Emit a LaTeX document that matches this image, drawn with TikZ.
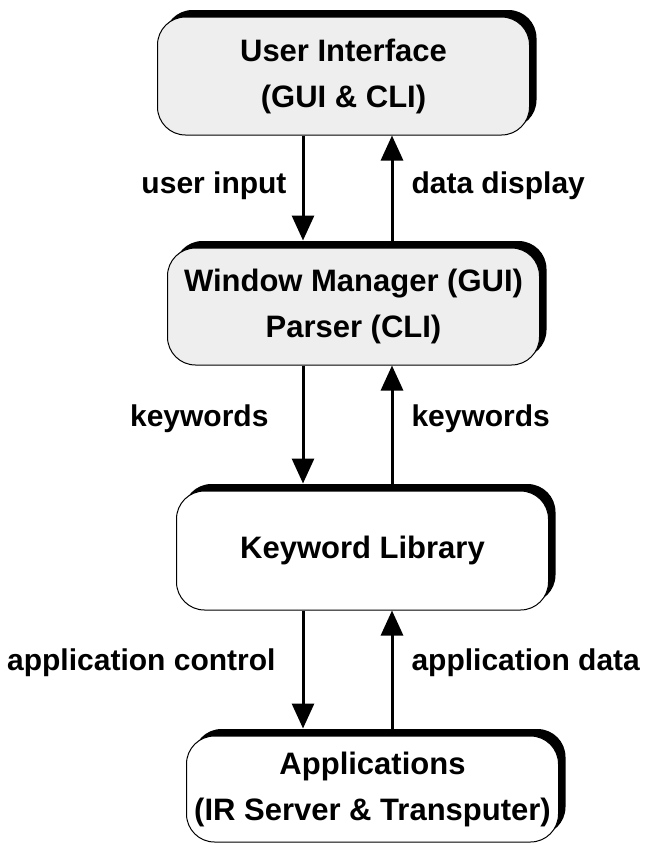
\documentclass[tikz,border=0pt]{standalone}
\usepackage{fontspec}
\setmainfont{Liberation Sans}
\usetikzlibrary{arrows.meta,shadows,calc}

\begin{document}
\begin{tikzpicture}[x=1pt,y=-1pt,
    layer/.style={draw=black,line width=1pt,rounded corners=28pt,inner sep=0pt,
        minimum width=372pt,align=center,
        font=\fontsize{31}{46}\selectfont\bfseries,
        drop shadow={shadow xshift=7pt,shadow yshift=7pt,fill=black,opacity=1}},
    shaded/.style={fill=gray!13},
    plain/.style={fill=white},
    flow/.style={line width=3pt,-{Triangle[width=22pt,length=25pt]}},
    lbl/.style={font=\fontsize{30}{36}\selectfont\bfseries,inner sep=0pt}]
    \useasboundingbox (0,0) rectangle (647,844);

    % Layers
    \node[layer,shaded,minimum height=118pt] (ui) at (343.5,76) {User Interface\\(GUI \& CLI)};
    \node[layer,shaded,minimum height=117pt] (wm) at (353.5,306.5) {Window Manager (GUI)\\Parser (CLI)};
    \node[layer,plain,minimum height=119pt] (kl) at (362.5,550.5) {Keyword Library};
    \node[layer,plain,minimum height=106pt] (app) at (372.5,789) {Applications\\(IR Server \& Transputer)};

    % Arrow columns
    \coordinate (dn) at (303,0);
    \coordinate (up) at (392,0);

    % User Interface <-> Window Manager
    \draw[flow] (ui.south -| dn) -- node[lbl,left=15pt,pos=0.48] (uin) {user input} ($(wm.north -| dn)+(0,-7)$);
    \draw[flow] ($(wm.north -| up)+(0,-7)$) -- node[lbl,right=18pt,pos=0.52] (ddis) {data display} (ui.south -| up);

    % Window Manager <-> Keyword Library
    \draw[flow] (wm.south -| dn) -- node[lbl,left=33pt,pos=0.45] (kwd) {keywords} ($(kl.north -| dn)+(0,-7)$);
    \draw[flow] ($(kl.north -| up)+(0,-7)$) -- node[lbl,right=18pt,pos=0.55] (kwu) {keywords} (wm.south -| up);

    % Keyword Library <-> Applications
    \draw[flow] (kl.south -| dn) -- node[lbl,left=26pt,pos=0.44] (actl) {application control} ($(app.north -| dn)+(0,-7)$);
    \draw[flow] ($(app.north -| up)+(0,-7)$) -- node[lbl,right=18pt,pos=0.56] (adat) {application data} (kl.south -| up);

\end{tikzpicture}
\end{document}
